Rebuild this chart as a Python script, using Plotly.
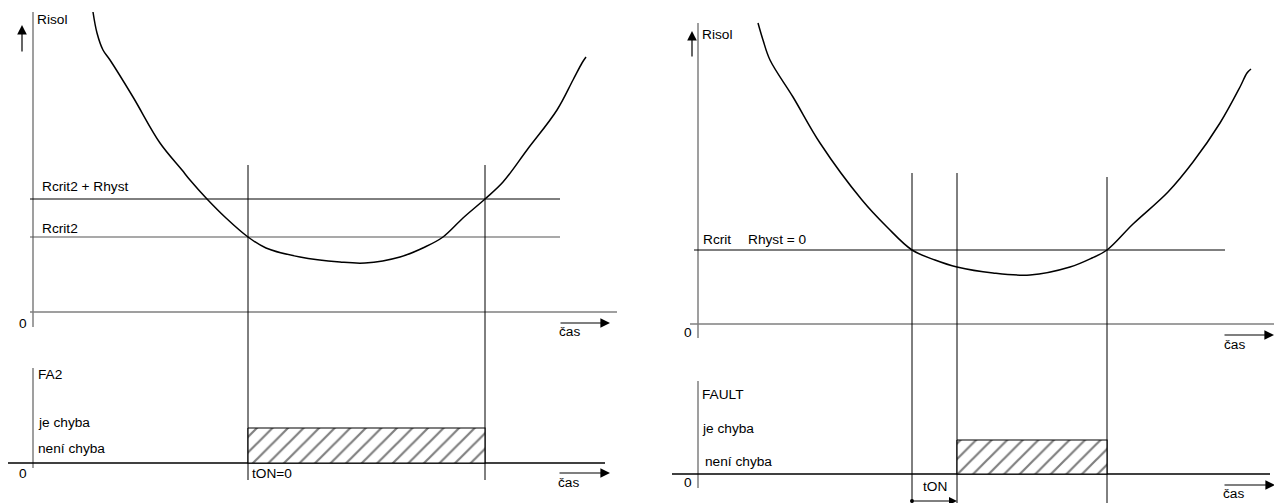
import plotly.graph_objects as go

# ---- data (sheet units = pixels of the reference) ----
# Left diagram: Rcrit2 with hysteresis
left_curve_t = [93, 97, 103, 110, 133, 160, 182, 190, 207, 226, 248, 266, 300, 340, 365,
                400, 425, 443, 463, 485, 503, 527, 557, 573, 582, 586]
left_curve_r = [12, 33, 50, 60, 97, 143, 170, 180, 199, 218, 237, 248, 257, 262, 263,
                257, 247, 237, 218, 199, 182, 150, 110, 80, 63, 57]
left_level_names = ["Rcrit2 + Rhyst", "Rcrit2"]
left_level_r = [199, 237]
left_level_label_r = [186, 228]
left_switch_t = [248, 485]          # fault on / off instants
left_fault_r = [428, 463]          # je chyba / není chyba levels (hatched band)

# Right diagram: Rcrit, Rhyst = 0, delay tON
right_curve_t = [758, 763, 770, 793, 820, 862, 887, 912, 935, 957, 993, 1030, 1070,
                 1092, 1107, 1133, 1168, 1193, 1220, 1240, 1247, 1251]
right_curve_r = [23, 40, 60, 97, 143, 200, 227, 250, 260, 267, 273, 275, 267,
                 258, 250, 224, 192, 162, 123, 87, 73, 69]
right_level_r = [250]
right_switch_t = [912, 957, 1107]   # threshold crossing, fault on (after tON), fault off
right_fault_r = [440, 474]

BLACK = "#000000"
GRAY = "#7f7f7f"
DGRAY = "#555555"
FONT = dict(family="Liberation Sans, Arial, sans-serif", size=13.7, color=BLACK)

# the page body has an 8 px margin: the figure is sized/ranged so sheet units map to window pixels
OFF = 8

fig = go.Figure()


def line(xs, ys, color=BLACK, width=1.0, shape="linear"):
    fig.add_trace(go.Scatter(x=xs, y=ys, mode="lines", hoverinfo="skip",
                             line=dict(color=color, width=width, shape=shape),
                             showlegend=False))


def text(x, y, s, xanchor="left"):
    fig.add_annotation(x=x, y=y, text=s, showarrow=False, xanchor=xanchor,
                       yanchor="middle", font=FONT, xref="x", yref="y")


def arrow(x0, y0, x1, y1, width=1.2):
    fig.add_annotation(x=x1, y=y1, ax=x0, ay=y0, xref="x", yref="y",
                       axref="x", ayref="y", text="", showarrow=True,
                       arrowhead=2, arrowsize=1.6, arrowwidth=width,
                       arrowcolor=BLACK, standoff=0, startstandoff=0)


def hatch(t0, t1, r0, r1):
    fig.add_trace(go.Scatter(
        x=[t0, t1, t1, t0, t0], y=[r0, r0, r1, r1, r0],
        mode="lines", fill="toself", hoverinfo="skip", showlegend=False,
        line=dict(color=BLACK, width=1.2),
        fillpattern=dict(shape="/", fgcolor=BLACK, bgcolor="white", size=11, solidity=0.2)))


# ================= LEFT =================
line([33, 33], [12, 327], GRAY, 1.5)
line([30, 617], [312, 312], GRAY, 1.5)
line([33, 33], [368, 468], GRAY, 1.5)
line([7, 605], [463, 463], BLACK, 1.5)
line([30, 560], [left_level_r[0], left_level_r[0]], BLACK, 1.0)
line([30, 560], [left_level_r[1], left_level_r[1]], DGRAY, 1.2)
for t in left_switch_t:
    line([t, t], [165, 480], BLACK, 1.0)
hatch(left_switch_t[0], left_switch_t[1], left_fault_r[0], left_fault_r[1])
line(left_curve_t, left_curve_r, BLACK, 1.5, "spline")
text(35, 19.5, "Risol")
for name, r in zip(left_level_names, left_level_label_r):
    text(40, r, name)
text(29, 323, "0", "right")
text(557, 331, "čas")
text(36, 374.5, "FA2")
text(36, 422.5, "je chyba")
text(36, 448, "není chyba")
text(29, 473, "0", "right")
text(250, 473, "tON=0")
text(556, 482, "čas")
arrow(22, 53, 22, 25)
arrow(559, 323, 610, 323)
arrow(558, 473, 610, 473)

# ================= RIGHT =================
line([698, 698], [23, 338], GRAY, 1.5)
line([690, 1281], [324, 324], GRAY, 1.5)
line([698, 698], [381, 488], GRAY, 1.5)
line([672, 1270], [474, 474], BLACK, 1.5)
line([694, 1225], [right_level_r[0], right_level_r[0]], BLACK, 1.0)
line([right_switch_t[0]] * 2, [173, 503], BLACK, 1.0)
line([right_switch_t[1]] * 2, [173, 503], BLACK, 1.0)
line([right_switch_t[2]] * 2, [177, 503], BLACK, 1.0)
hatch(right_switch_t[1], right_switch_t[2], right_fault_r[0], right_fault_r[1])
line(right_curve_t, right_curve_r, BLACK, 1.5, "spline")
text(700, 34, "Risol")
text(701, 239, "Rcrit")
text(746, 239, "Rhyst = 0")
text(694, 332, "0", "right")
text(1222, 344, "čas")
text(700, 394, "FAULT")
text(700, 428, "je chyba")
text(703, 461, "není chyba")
text(694, 482, "0", "right")
text(935, 486, "tON", "center")
text(1221, 493, "čas")
arrow(692, 58, 692, 31)
arrow(1223, 335, 1274, 335)
arrow(1223, 485, 1275, 485)
fig.add_trace(go.Scatter(x=[right_switch_t[0]], y=[501], mode="markers", hoverinfo="skip",
                         marker=dict(color=BLACK, size=4), showlegend=False))
arrow(right_switch_t[0], 501, right_switch_t[1], 501, 1.0)

fig.update_layout(
    width=1282 - OFF, height=503 - OFF, autosize=False,
    margin=dict(l=0, r=0, t=0, b=0, pad=0),
    paper_bgcolor="white", plot_bgcolor="white",
    xaxis=dict(range=[OFF, 1282], visible=False, fixedrange=True),
    yaxis=dict(range=[503, OFF], visible=False, fixedrange=True),
    showlegend=False,
)

fig.write_html("out.html")
